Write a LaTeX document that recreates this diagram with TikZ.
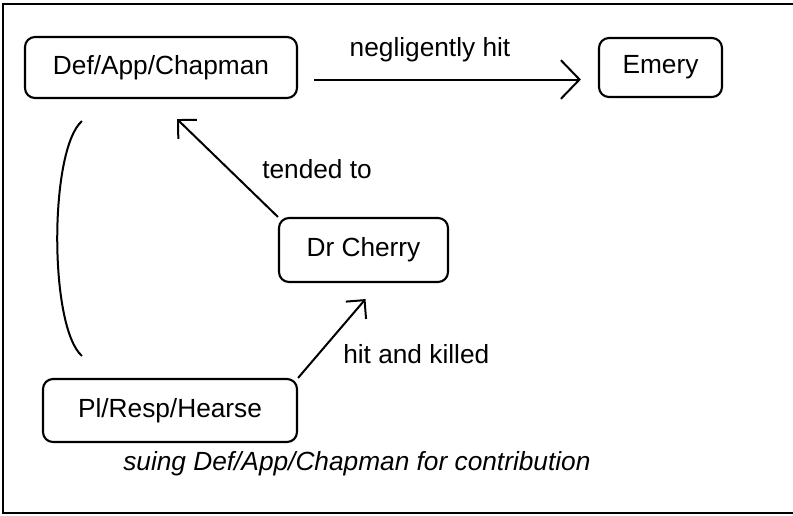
\documentclass[tikz,border=0pt]{standalone}
\usepackage{fontspec}
\setmainfont{Liberation Sans}
\usetikzlibrary{arrows.meta,calc}
\tikzset{party/.style={draw, rounded corners=7.5pt, line width=1.6pt, inner sep=0pt, font=\fontsize{19.7}{24}\selectfont},
  tag/.style={inner sep=0pt, anchor=base west, font=\fontsize{19.7}{24}\selectfont},
  link/.style={line width=1.5pt, -{Straight Barb[length=10pt,width=20pt]}}}

\begin{document}
\begin{tikzpicture}[x=0.75pt,y=-0.75pt]
  \useasboundingbox (0,0) rectangle (793,515);
  \draw[line width=1.5pt] (793,4) -- (3,4) -- (3,513) -- (793,513);
  % parties
  \node[party, minimum width=204pt,    minimum height=45.75pt] (chapman) at (161,67.5)  {Def/App/Chapman};
  \node[party, minimum width=92.25pt,  minimum height=44.25pt] (emery)   at (660.5,67.5) {Emery};
  \node[party, minimum width=126.75pt, minimum height=48pt]    (cherry)  at (363.5,250) {Dr Cherry};
  \node[party, minimum width=190.5pt,  minimum height=47.25pt] (hearse)  at (170,410.5) {Pl/Resp/Hearse};
  % connectors
  \draw[link, -{Straight Barb[length=14pt,width=29pt]}, shorten <=12pt, shorten >=12.75pt]
    ([yshift=-9pt]chapman.east) -- ([yshift=-9pt]emery.west);
  \draw[link] (cherry.north west) -- ($(chapman.south)+(16,20)$);
  \draw[link] (hearse.north east) -- ($(cherry.south)+(2,16)$);
  \coordinate (bracetop) at ($(chapman.south west)+(58,22)$);
  \coordinate (bracebot) at ($(hearse.north west)+(40,-22)$);
  \draw[line width=1.5pt] (bracetop) .. controls (49,150) and (49,327) .. (bracebot);
  % labels
  \node[tag, anchor=base] (neglig) at (430,56)  {negligently hit};
  \node[tag]              (tended) at (262,178) {tended to};
  \node[tag]              (killed) at (343,363) {hit and killed};
  \node[tag, font=\fontsize{19.7}{24}\selectfont\itshape] (suing) at (123,470) {suing Def/App/Chapman for contribution};
\end{tikzpicture}
\end{document}
